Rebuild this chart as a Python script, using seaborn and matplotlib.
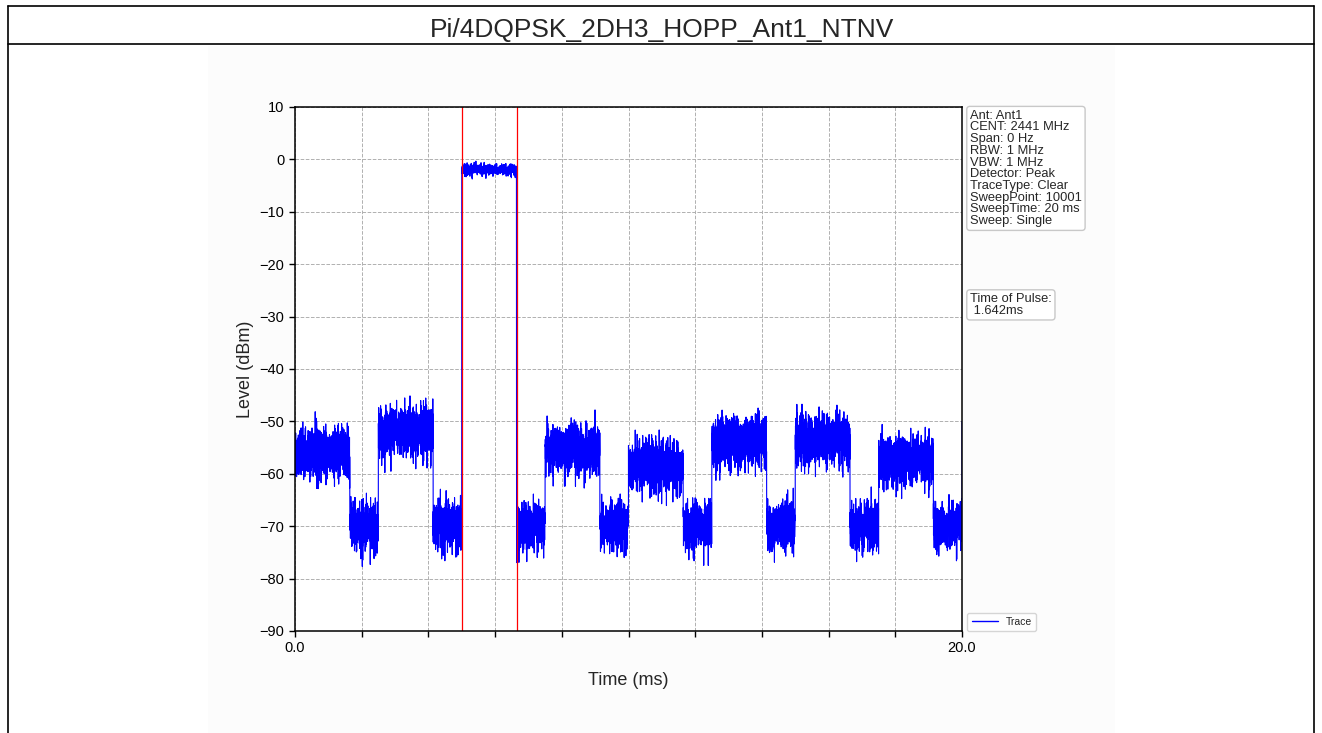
import numpy as np
import matplotlib
matplotlib.use("Agg")
import matplotlib.pyplot as plt
import seaborn as sns
from matplotlib.patches import Rectangle
from matplotlib.lines import Line2D

# ---- data ----
title = "Pi/4DQPSK_2DH3_HOPP_Ant1_NTNV"
seg_start = [0.0, 1.642, 2.5, 4.142, 5.0, 6.642, 7.5, 9.142, 10.0, 11.642, 12.5, 14.142, 15.0, 16.642, 17.5, 19.142, 19.999]
seg_end = [1.642, 2.5, 4.142, 5.0, 6.642, 7.5, 9.142, 10.0, 11.642, 12.5, 14.142, 15.0, 16.642, 17.5, 19.142, 19.999, 20.0]
seg_level = [-55.5, -69.5, -51.5, -69.5, -1.9, -69.5, -55, -69.5, -58.5, -69.5, -53.5, -69.5, -53, -69.5, -57, -69.5, -50]
seg_sigma = [2.1, 2.0, 2.1, 2.0, 0.45, 2.0, 2.1, 2.0, 2.1, 2.0, 2.1, 2.0, 2.1, 2.0, 2.1, 2.0, 0.0]
marker_times = [5.0, 6.642]
info_lines = ["Ant: Ant1", "CENT: 2441 MHz", "Span: 0 Hz", "RBW: 1 MHz", "VBW: 1 MHz",
              "Detector: Peak", "TraceType: Clear", "SweepPoint: 10001",
              "SweepTime: 20 ms", "Sweep: Single"]
pulse_text = "Time of Pulse:\n 1.642ms"
x_ticks = [0, 2, 4, 6, 8, 10, 12, 14, 16, 18, 20]
x_ticklabels = ["0.0", "", "", "", "", "", "", "", "", "", "20.0"]
y_ticks = [10, 0, -10, -20, -30, -40, -50, -60, -70, -80, -90]

# trace texture (noise around the read levels)
n_points = 10001
t = np.linspace(0, 20, n_points)
rng = np.random.default_rng(11)
level = np.zeros(n_points)
sig = np.zeros(n_points)
for s, e, l, sg in zip(seg_start, seg_end, seg_level, seg_sigma):
    m = (t >= s) & (t <= e)
    level[m] = l
    sig[m] = sg
noise = np.clip(rng.normal(0, 1, n_points), -3.6, 3.5)
noise = np.where(noise < 0, noise * 1.25, noise)
y = level + noise * sig

sns.set_style("ticks")
plt.rcParams['font.family'] = ['Liberation Sans', 'DejaVu Sans']

W, H = 1322, 733
fig = plt.figure(figsize=(W / 100, H / 100), dpi=100)
fig.patch.set_facecolor("white")

# embedded image background
bg = Rectangle((208 / W, 0), (1115 - 208) / W, (733 - 46) / H,
               transform=fig.transFigure, facecolor="#fcfcfc",
               edgecolor="none", zorder=-5)
fig.add_artist(bg)
# outer table borders
def fline(x0, y0, x1, y1, lw=1.2):
    fig.add_artist(Line2D([x0 / W, x1 / W], [1 - y0 / H, 1 - y1 / H],
                          transform=fig.transFigure, color="black", lw=lw, zorder=-4))
fline(8, 6, 1314, 6)
fline(8, 44, 1314, 44)
fline(8, 6, 8, 733)
fline(1314, 6, 1314, 733)
fig.text(662 / W, 1 - 30 / H, title, ha="center", va="center", fontsize=19)

ax = fig.add_axes([295 / W, 1 - 631 / H, (962 - 295) / W, (631 - 107) / H])
ax.set_zorder(1)
ax.set_facecolor("white")
sns.lineplot(x=t, y=y, ax=ax, color="blue", linewidth=0.8, estimator=None,
             sort=False, legend=False)
for mt in marker_times:
    ax.axvline(mt, color="red", linewidth=0.9)

ax.set_xlim(0, 20)
ax.set_ylim(-90, 10)
ax.set_xticks(x_ticks)
ax.set_xticklabels(x_ticklabels)
ax.set_yticks(y_ticks)
ax.tick_params(labelsize=10.5, length=4, width=1, colors="black")
ax.grid(True, linestyle="--", color="#b0b0b0", linewidth=0.7)
for sp in ax.spines.values():
    sp.set_visible(True)
    sp.set_color("black")
    sp.set_linewidth(1.1)
ax.set_xlabel("Time (ms)", fontsize=13, labelpad=12)
ax.set_ylabel("Level (dBm)", fontsize=13, labelpad=4)

handle = Line2D([], [], color="blue", linewidth=1.0)
ax.legend([handle], ["Trace"], loc="lower left", bbox_to_anchor=(1.008, 0.0), fontsize=7.5,
          frameon=True, handlelength=2.5, borderaxespad=0.0)

box = dict(boxstyle="round,pad=0.25", facecolor="white", edgecolor="#c8c8c8", linewidth=1)
ax.text(1.012, 0.995, "\n".join(info_lines), transform=ax.transAxes, ha="left", va="top",
        fontsize=9.3, linespacing=0.97, bbox=box)
ax.text(1.012, 0.645, pulse_text, transform=ax.transAxes, ha="left", va="top",
        fontsize=9.3, linespacing=0.97, bbox=box)

fig.savefig("out.png", dpi=100)
